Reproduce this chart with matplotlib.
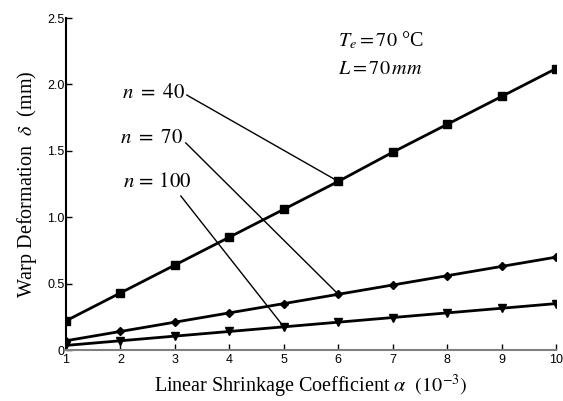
import matplotlib
matplotlib.use("Agg")
import matplotlib.pyplot as plt

plt.rcParams.update({
    "font.family": "Liberation Serif",
    "mathtext.fontset": "stix",
})

alpha = [1, 2, 3, 4, 5, 6, 7, 8, 9, 10]
warp_n40 = [0.22, 0.43, 0.64, 0.85, 1.06, 1.27, 1.49, 1.70, 1.91, 2.12]
warp_n70 = [0.07, 0.14, 0.21, 0.28, 0.35, 0.42, 0.49, 0.56, 0.63, 0.70]
warp_n100 = [0.035, 0.07, 0.105, 0.14, 0.175, 0.21, 0.245, 0.28, 0.315, 0.35]

y_ticks = [0, 0.5, 1.0, 1.5, 2.0, 2.5]
y_tick_labels = ["0", "0.5", "1.0", "1.5", "2.0", "2.5"]


def main():
    fig = plt.figure(figsize=(5.63, 4.01), dpi=100)
    ax = fig.add_axes([0.117, 0.127, 0.871, 0.828])

    ax.plot(alpha, warp_n40, color="black", lw=2.0, marker="s", ms=5.5)
    ax.plot(alpha, warp_n70, color="black", lw=2.0, marker="D", ms=4.0)
    ax.plot(alpha, warp_n100, color="black", lw=2.0, marker="v", ms=5.5)

    ax.set_xlim(1, 10)
    ax.set_ylim(0, 2.5)
    ax.set_xticks(alpha)
    ax.set_yticks(y_ticks)
    ax.set_yticklabels(y_tick_labels)

    for side in ("top", "right"):
        ax.spines[side].set_visible(False)
    ax.spines["left"].set_linewidth(1.5)
    ax.spines["bottom"].set_linewidth(1.5)
    ax.spines["bottom"].set_color("#808080")

    ax.tick_params(direction="in", length=4, width=1, pad=3)
    ax.tick_params(axis="y", pad=1)
    for lab in ax.get_xticklabels() + ax.get_yticklabels():
        lab.set_fontfamily("Liberation Sans")
        lab.set_fontsize(9)

    ax.set_xlabel(r"Linear Shrinkage Coefficient $\alpha$  $(10^{-3})$", fontsize=14.5, labelpad=5)
    ax.set_ylabel(r"Warp Deformation  $\delta$  (mm)", fontsize=14.5, labelpad=6)

    # curve labels with leader lines to a marker on each curve
    labels = [
        (r"$n\ =\ 40$", (3.19, 1.93), (3.22, 1.92), (alpha[5], warp_n40[5])),
        (r"$n\ =\ 70$", (3.15, 1.59), (3.20, 1.56), (alpha[5], warp_n70[5])),
        (r"$n\,=\,100$", (3.31, 1.26), (3.11, 1.16), (alpha[4], warp_n100[4])),
    ]
    for text, txy, start, end in labels:
        ax.text(txy[0], txy[1], text, fontsize=15, ha="right", va="center")
        ax.plot([start[0], end[0]], [start[1], end[1]], color="black", lw=1.0)

    ax.text(6.0, 2.33, r"$T_e = 70$ °C", fontsize=14.5, ha="left", va="center")
    ax.text(6.0, 2.11, r"$L = 70\,mm$", fontsize=14.5, ha="left", va="center")

    fig.savefig("out.png", dpi=100)
    plt.close(fig)


if __name__ == "__main__":
    main()
